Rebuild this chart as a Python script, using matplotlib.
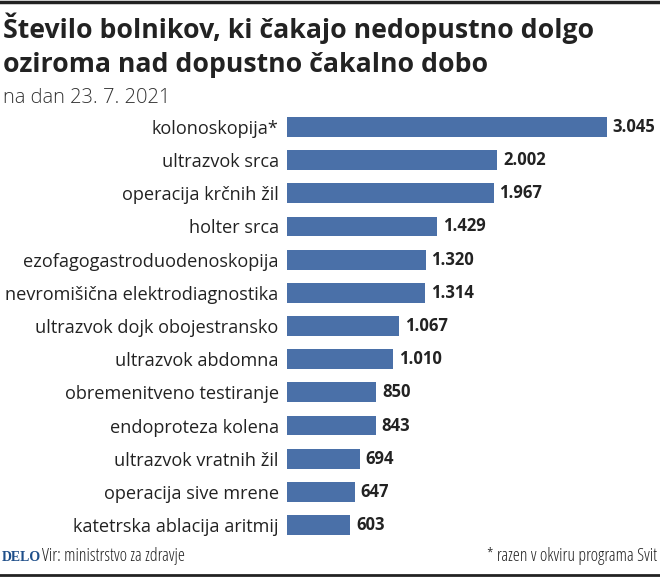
import matplotlib
matplotlib.use("Agg")
from matplotlib import pyplot as plt

W, H = 660, 578
DPI = 100

BAR_COLOR = "#4a70a8"

categories = [
    "kolonoskopija*",
    "ultrazvok srca",
    "operacija krčnih žil",
    "holter srca",
    "ezofagogastroduodenoskopija",
    "nevromišična elektrodiagnostika",
    "ultrazvok dojk obojestransko",
    "ultrazvok abdomna",
    "obremenitveno testiranje",
    "endoproteza kolena",
    "ultrazvok vratnih žil",
    "operacija sive mrene",
    "katetrska ablacija aritmij",
]
values = [3045, 2002, 1967, 1429, 1320, 1314, 1067, 1010, 850, 843, 694, 647, 603]
value_labels = ["3.045", "2.002", "1.967", "1.429", "1.320", "1.314", "1.067",
                "1.010", "850", "843", "694", "647", "603"]

plt.rcParams["font.family"] = ["Open Sans", "DejaVu Sans"]

fig = plt.figure(figsize=(W / DPI, H / DPI), dpi=DPI)

# axes placed in pixel coords
left, right, top, bottom = 287, 660, 110.4, 541.6
ax = fig.add_axes([left / W, 1 - bottom / H, (right - left) / W, (bottom - top) / H])
xmax = (right - left) * 3045 / 320
ys = list(range(len(categories)))
ax.barh(ys, values, height=0.6, color=BAR_COLOR, zorder=2)
ax.set_xlim(0, xmax)
ax.set_ylim(len(categories) - 0.5, -0.5)
ax.set_yticks(ys)
ax.set_yticklabels(categories, fontsize=13.1, color="#222222")
ax.tick_params(axis="y", length=0, pad=6)
ax.set_xticks([])
for s in ax.spines.values():
    s.set_visible(False)

for y, v, lab in zip(ys, values, value_labels):
    ax.annotate(lab, (v, y), xytext=(4, 0), textcoords="offset points",
                ha="left", va="center", fontsize=12, fontweight="bold", color="#222222")

# titles
fig.text(3 / W, 1 - 38 / H, "Število bolnikov, ki čakajo nedopustno dolgo",
         fontsize=19.2, fontweight="bold", color="#222222", va="baseline")
fig.text(3 / W, 1 - 72 / H, "oziroma nad dopustno čakalno dobo",
         fontsize=19.2, fontweight="bold", color="#222222", va="baseline")
fig.text(3 / W, 1 - 103 / H, "na dan 23. 7. 2021",
         fontsize=14.5, fontweight="light", color="#333333", va="baseline")

# footer
fig.text(2 / W, 1 - 561 / H, "DELO", family="Liberation Serif", fontsize=10,
         fontweight="bold", color="#1f4f8a", va="baseline")
fig.text(42 / W, 1 - 561 / H, "Vir: ministrstvo za zdravje",
         fontsize=12.8, stretch="condensed", color="#222222", va="baseline")
fig.text(657 / W, 1 - 561 / H, "* razen v okviru programa Svit",
         fontsize=12.8, stretch="condensed", color="#222222", va="baseline", ha="right")

# frame lines
fig.add_artist(plt.Line2D([0, 1], [1 - 1.5 / H, 1 - 1.5 / H], color="#222222", lw=2.5))
fig.add_artist(plt.Line2D([0, 1], [1 - 575 / H, 1 - 575 / H], color="#222222", lw=2))

fig.savefig("out.png", dpi=DPI)
